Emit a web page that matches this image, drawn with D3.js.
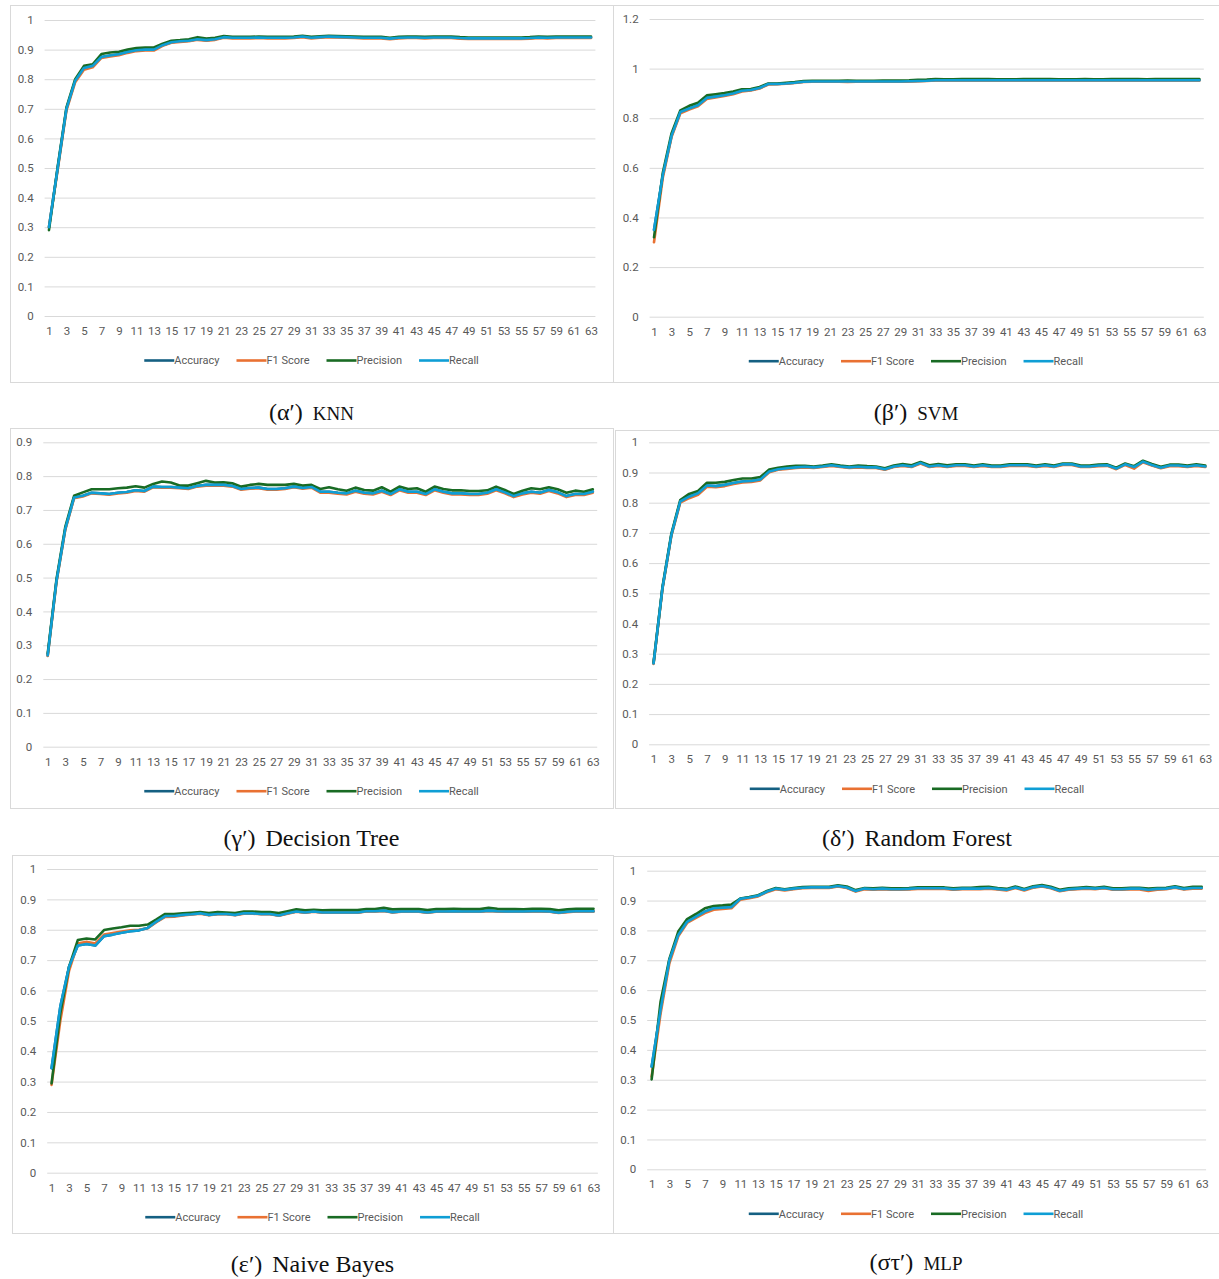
<!DOCTYPE html>
<html>
<head>
<meta charset="utf-8">
<script src="https://cdn.jsdelivr.net/npm/d3@7"></script>
<style>
  body { margin: 0; background: #fff; }
  text { font-family: Roboto, "Liberation Sans", sans-serif; }
</style>
</head>
<body>
<div id="chart"></div>
<script>
// categories on the x axis (1..63) and the labels Excel shows (odd only)
var epochs = d3.range(1, 64);
var tickLabels = epochs.filter((d) => d % 2 === 1);
var seriesNames = ["Accuracy", "F1 Score", "Precision", "Recall"];
var seriesColors = ["#156082", "#E97132", "#196B24", "#0F9ED5"];

// KNN
var knnAccuracy = [0.300,0.500,0.700,0.795,0.838,0.845,0.875,0.880,0.884,0.892,
  0.898,0.900,0.900,0.915,0.925,0.928,0.930,0.935,0.932,0.935,
  0.942,0.940,0.940,0.940,0.941,0.940,0.940,0.940,0.941,0.944,
  0.940,0.942,0.944,0.943,0.942,0.941,0.940,0.940,0.940,0.937,
  0.940,0.941,0.941,0.940,0.941,0.941,0.941,0.939,0.938,0.938,
  0.938,0.938,0.938,0.938,0.938,0.939,0.941,0.940,0.941,0.941,
  0.941,0.941,0.941];
var knnPrecision = [0.290,0.505,0.705,0.800,0.845,0.850,0.885,0.890,0.893,0.900,
  0.905,0.907,0.907,0.920,0.930,0.932,0.935,0.942,0.937,0.940,
  0.946,0.943,0.943,0.943,0.944,0.943,0.943,0.943,0.944,0.947,
  0.943,0.945,0.947,0.946,0.945,0.944,0.943,0.943,0.943,0.940,
  0.943,0.944,0.944,0.943,0.944,0.944,0.944,0.942,0.941,0.941,
  0.941,0.941,0.941,0.941,0.941,0.942,0.944,0.943,0.944,0.944,
  0.944,0.944,0.944];
var knnF1 = [0.300,0.495,0.695,0.790,0.832,0.840,0.872,0.877,0.881,0.889,
  0.895,0.897,0.897,0.913,0.923,0.926,0.928,0.933,0.930,0.933,
  0.940,0.938,0.938,0.938,0.939,0.938,0.938,0.938,0.939,0.942,
  0.938,0.940,0.942,0.941,0.940,0.939,0.938,0.938,0.938,0.935,
  0.938,0.939,0.939,0.938,0.939,0.939,0.939,0.937,0.936,0.936,
  0.936,0.936,0.936,0.936,0.936,0.937,0.939,0.938,0.939,0.939,
  0.939,0.939,0.939];

// SVM
var svmAccuracy = [0.350,0.570,0.730,0.825,0.839,0.852,0.882,0.887,0.893,0.900,
  0.911,0.914,0.922,0.938,0.938,0.940,0.943,0.947,0.948,0.948,
  0.948,0.948,0.948,0.948,0.948,0.948,0.948,0.948,0.948,0.949,
  0.950,0.951,0.953,0.953,0.953,0.953,0.953,0.953,0.953,0.953,
  0.953,0.953,0.953,0.953,0.953,0.953,0.953,0.953,0.953,0.953,
  0.953,0.953,0.953,0.953,0.953,0.953,0.953,0.953,0.953,0.953,
  0.953,0.953,0.953];
var svmPrecision = [0.320,0.580,0.740,0.832,0.850,0.862,0.892,0.897,0.902,0.908,
  0.917,0.918,0.926,0.940,0.940,0.943,0.946,0.950,0.951,0.951,
  0.951,0.951,0.952,0.951,0.951,0.951,0.952,0.952,0.952,0.953,
  0.955,0.956,0.958,0.957,0.957,0.958,0.958,0.958,0.958,0.957,
  0.957,0.957,0.958,0.958,0.958,0.958,0.957,0.957,0.957,0.958,
  0.957,0.957,0.958,0.958,0.958,0.958,0.957,0.958,0.958,0.958,
  0.958,0.958,0.958];
var svmF1 = [0.300,0.560,0.725,0.820,0.835,0.848,0.878,0.884,0.890,0.897,
  0.908,0.912,0.920,0.936,0.937,0.939,0.942,0.946,0.947,0.947,
  0.947,0.947,0.946,0.947,0.947,0.947,0.947,0.947,0.947,0.948,
  0.949,0.950,0.952,0.952,0.952,0.952,0.952,0.952,0.952,0.952,
  0.952,0.952,0.952,0.952,0.952,0.952,0.952,0.952,0.952,0.952,
  0.952,0.952,0.952,0.952,0.952,0.952,0.952,0.952,0.952,0.952,
  0.952,0.952,0.952];

// Decision Tree
var dtAccuracy = [0.270,0.490,0.644,0.737,0.742,0.751,0.749,0.747,0.751,0.753,
  0.758,0.756,0.769,0.768,0.768,0.766,0.764,0.771,0.774,0.774,
  0.774,0.771,0.762,0.765,0.766,0.762,0.762,0.764,0.769,0.765,
  0.768,0.754,0.754,0.751,0.749,0.757,0.751,0.749,0.757,0.747,
  0.761,0.754,0.754,0.747,0.761,0.754,0.749,0.749,0.747,0.747,
  0.751,0.761,0.752,0.741,0.749,0.754,0.751,0.759,0.752,0.741,
  0.747,0.747,0.754];
var dtPrecision = [0.275,0.495,0.650,0.742,0.752,0.761,0.761,0.761,0.764,0.766,
  0.770,0.766,0.777,0.784,0.781,0.772,0.772,0.779,0.786,0.781,
  0.782,0.779,0.769,0.774,0.777,0.774,0.774,0.774,0.777,0.772,
  0.774,0.762,0.767,0.761,0.757,0.766,0.759,0.757,0.767,0.754,
  0.769,0.762,0.764,0.754,0.769,0.762,0.758,0.758,0.756,0.756,
  0.758,0.769,0.759,0.747,0.757,0.764,0.761,0.767,0.761,0.751,
  0.757,0.754,0.761];
var dtF1 = [0.268,0.487,0.641,0.735,0.740,0.749,0.747,0.745,0.749,0.751,
  0.756,0.754,0.767,0.766,0.766,0.764,0.762,0.769,0.772,0.772,
  0.772,0.769,0.760,0.763,0.764,0.760,0.760,0.762,0.767,0.763,
  0.766,0.751,0.751,0.748,0.746,0.754,0.748,0.746,0.754,0.744,
  0.758,0.751,0.751,0.744,0.758,0.751,0.746,0.746,0.744,0.744,
  0.748,0.758,0.749,0.738,0.746,0.751,0.748,0.756,0.749,0.738,
  0.744,0.744,0.751];

// Random Forest
var rfAccuracy = [0.268,0.517,0.693,0.804,0.820,0.831,0.857,0.855,0.859,0.865,
  0.870,0.872,0.877,0.903,0.911,0.914,0.917,0.919,0.917,0.920,
  0.924,0.920,0.917,0.919,0.917,0.917,0.911,0.920,0.924,0.920,
  0.932,0.920,0.924,0.920,0.924,0.924,0.920,0.924,0.920,0.920,
  0.924,0.924,0.924,0.920,0.924,0.920,0.927,0.927,0.920,0.920,
  0.923,0.924,0.913,0.927,0.918,0.936,0.925,0.916,0.923,0.923,
  0.920,0.924,0.920];
var rfPrecision = [0.270,0.520,0.697,0.809,0.829,0.839,0.866,0.866,0.869,0.875,
  0.880,0.880,0.885,0.910,0.916,0.920,0.922,0.922,0.920,0.923,
  0.927,0.923,0.920,0.923,0.921,0.920,0.914,0.923,0.928,0.924,
  0.935,0.924,0.928,0.924,0.927,0.927,0.923,0.927,0.923,0.923,
  0.927,0.927,0.927,0.923,0.927,0.923,0.930,0.930,0.923,0.923,
  0.926,0.927,0.916,0.930,0.921,0.939,0.928,0.919,0.926,0.926,
  0.923,0.927,0.923];
var rfF1 = [0.266,0.514,0.690,0.800,0.815,0.826,0.853,0.851,0.855,0.862,
  0.867,0.869,0.874,0.901,0.909,0.912,0.915,0.917,0.915,0.918,
  0.922,0.918,0.915,0.917,0.915,0.915,0.909,0.918,0.922,0.918,
  0.930,0.918,0.922,0.918,0.922,0.922,0.918,0.922,0.918,0.918,
  0.922,0.922,0.922,0.918,0.922,0.918,0.925,0.925,0.918,0.918,
  0.921,0.922,0.911,0.925,0.913,0.934,0.923,0.914,0.921,0.921,
  0.918,0.922,0.918];

// Naive Bayes
var nbAccuracy = [0.344,0.547,0.678,0.748,0.753,0.748,0.779,0.784,0.790,0.795,
  0.798,0.806,0.827,0.845,0.845,0.849,0.851,0.854,0.849,0.852,
  0.852,0.849,0.854,0.854,0.852,0.852,0.847,0.854,0.860,0.857,
  0.860,0.857,0.857,0.857,0.857,0.857,0.861,0.861,0.863,0.858,
  0.860,0.860,0.860,0.857,0.860,0.860,0.861,0.860,0.860,0.860,
  0.863,0.861,0.860,0.860,0.860,0.861,0.861,0.860,0.856,0.859,
  0.861,0.861,0.861];
var nbPrecision = [0.294,0.525,0.678,0.766,0.771,0.768,0.799,0.804,0.808,0.813,
  0.813,0.817,0.834,0.852,0.852,0.854,0.856,0.858,0.855,0.858,
  0.857,0.855,0.860,0.860,0.858,0.858,0.855,0.861,0.867,0.864,
  0.866,0.864,0.865,0.865,0.865,0.865,0.868,0.868,0.872,0.867,
  0.868,0.868,0.868,0.865,0.868,0.868,0.869,0.868,0.868,0.868,
  0.872,0.869,0.868,0.868,0.867,0.869,0.869,0.868,0.864,0.867,
  0.869,0.869,0.869];
var nbF1 = [0.289,0.500,0.665,0.755,0.760,0.755,0.784,0.789,0.794,0.798,
  0.800,0.805,0.825,0.842,0.843,0.847,0.850,0.853,0.848,0.851,
  0.851,0.848,0.853,0.853,0.851,0.851,0.846,0.853,0.859,0.856,
  0.859,0.856,0.856,0.856,0.856,0.856,0.860,0.860,0.862,0.857,
  0.859,0.859,0.859,0.856,0.859,0.859,0.860,0.859,0.859,0.859,
  0.862,0.860,0.859,0.859,0.859,0.860,0.860,0.859,0.855,0.858,
  0.860,0.860,0.860];

// MLP
var mlpAccuracy = [0.344,0.533,0.700,0.785,0.829,0.846,0.863,0.874,0.876,0.878,
  0.906,0.910,0.916,0.930,0.940,0.936,0.940,0.943,0.944,0.944,
  0.944,0.949,0.944,0.932,0.940,0.938,0.940,0.938,0.938,0.939,
  0.941,0.941,0.941,0.941,0.938,0.940,0.940,0.940,0.942,0.939,
  0.936,0.944,0.936,0.945,0.949,0.943,0.933,0.938,0.940,0.942,
  0.940,0.943,0.938,0.938,0.940,0.940,0.936,0.939,0.940,0.945,
  0.939,0.942,0.942];
var mlpPrecision = [0.301,0.560,0.705,0.796,0.838,0.855,0.874,0.882,0.884,0.887,
  0.907,0.912,0.918,0.932,0.942,0.938,0.942,0.945,0.946,0.946,
  0.946,0.951,0.947,0.935,0.942,0.941,0.943,0.941,0.941,0.942,
  0.944,0.944,0.944,0.944,0.941,0.943,0.943,0.945,0.946,0.942,
  0.939,0.947,0.939,0.948,0.952,0.946,0.936,0.941,0.943,0.945,
  0.943,0.946,0.941,0.941,0.943,0.943,0.940,0.942,0.943,0.948,
  0.942,0.946,0.946];
var mlpF1 = [0.310,0.520,0.690,0.780,0.825,0.842,0.858,0.869,0.872,0.874,
  0.903,0.908,0.914,0.928,0.938,0.934,0.938,0.941,0.942,0.942,
  0.942,0.947,0.942,0.930,0.938,0.936,0.938,0.936,0.936,0.937,
  0.939,0.939,0.939,0.939,0.936,0.938,0.938,0.938,0.940,0.937,
  0.934,0.942,0.934,0.943,0.947,0.941,0.931,0.936,0.938,0.940,
  0.938,0.941,0.936,0.936,0.938,0.937,0.932,0.936,0.938,0.943,
  0.937,0.940,0.940];

// y tick values per panel
var yTicks01 = d3.range(0, 11).map((d) => d / 10);
var yTicks12 = [0, 0.2, 0.4, 0.6, 0.8, 1, 1.2];
var yTicks09 = d3.range(0, 10).map((d) => d / 10);

// panel layout (weighted recall equals accuracy, so Recall reuses the accuracy values)
var panels = [
  { greek: "α", name: "KNN", caps: true, acc: knnAccuracy, f1: knnF1, prec: knnPrecision,
    ticks: yTicks01, frame: [10, 5, 603, 377], x: [44.6, 595.4], y: [316, 20], cap: 420 },
  { greek: "β", name: "SVM", caps: true, acc: svmAccuracy, f1: svmF1, prec: svmPrecision,
    ticks: yTicks12, frame: [613, 5, 606, 377], x: [649.6, 1203.8], y: [316.7, 19], cap: 420 },
  { greek: "γ", name: "Decision Tree", caps: false, acc: dtAccuracy, f1: dtF1, prec: dtPrecision,
    ticks: yTicks09, frame: [10, 428, 603, 380], x: [43.3, 597.2], y: [746.7, 442.3], cap: 846 },
  { greek: "δ", name: "Random Forest", caps: false, acc: rfAccuracy, f1: rfF1, prec: rfPrecision,
    ticks: yTicks01, frame: [615, 430, 604, 378], x: [649.1, 1209.7], y: [744.3, 442.3], cap: 846 },
  { greek: "ε", name: "Naive Bayes", caps: false, acc: nbAccuracy, f1: nbF1, prec: nbPrecision,
    ticks: yTicks01, frame: [12, 855, 601, 378], x: [47.2, 597.9], y: [1172.7, 869], cap: 1272 },
  { greek: "στ", name: "MLP", caps: true, acc: mlpAccuracy, f1: mlpF1, prec: mlpPrecision,
    ticks: yTicks01, frame: [613, 856, 606, 377], x: [647.2, 1206.1], y: [1169.3, 870.7], cap: 1270 }
];

var svg = d3.select("#chart").append("svg")
  .attr("width", 1219)
  .attr("height", 1279)
  .style("display", "block");

panels.forEach(function (p) {
  var g = svg.append("g");

  // light chart frame
  g.append("rect")
    .attr("x", p.frame[0] + 0.5).attr("y", p.frame[1] + 0.5)
    .attr("width", p.frame[2]).attr("height", p.frame[3])
    .attr("fill", "none").attr("stroke", "#d9d9d9").attr("stroke-width", 1);

  var x = d3.scalePoint().domain(epochs).range(p.x).padding(0.5);
  var y = d3.scaleLinear().domain([0, d3.max(p.ticks)]).range(p.y);

  // gridlines + y labels
  var yAxis = g.append("g")
    .attr("transform", "translate(" + p.x[0] + ",0)")
    .call(d3.axisLeft(y).tickValues(p.ticks).tickSize(-(p.x[1] - p.x[0])).tickPadding(11)
      .tickFormat(d3.format("~g")));
  yAxis.select(".domain").remove();
  yAxis.selectAll("line").attr("stroke", "#d9d9d9").attr("stroke-width", 1);
  yAxis.selectAll("text").attr("fill", "#595959").style("font-size", "11.5px");

  // x labels
  var xAxis = g.append("g")
    .attr("transform", "translate(0," + p.y[0] + ")")
    .call(d3.axisBottom(x).tickValues(tickLabels).tickSize(0).tickPadding(11));
  xAxis.select(".domain").remove();
  xAxis.selectAll("text").attr("fill", "#595959").style("font-size", "11.5px");

  var series = [
    { name: seriesNames[0], values: p.acc },
    { name: seriesNames[1], values: p.f1 },
    { name: seriesNames[2], values: p.prec },
    { name: seriesNames[3], values: p.acc }
  ];

  var line = d3.line()
    .x((d, i) => x(epochs[i]))
    .y((d) => y(d));

  g.selectAll(".series")
    .data(series)
    .enter()
    .append("path")
    .attr("class", "series")
    .attr("fill", "none")
    .attr("stroke", (d, i) => seriesColors[i])
    .attr("stroke-width", 2.6)
    .attr("stroke-linejoin", "round")
    .attr("stroke-linecap", "round")
    .attr("d", (d) => line(d.values));

  // legend, centred in the chart frame
  var legend = g.append("g");
  var lx = 0;
  series.forEach(function (s, i) {
    legend.append("line")
      .attr("x1", lx).attr("x2", lx + 30).attr("y1", 0).attr("y2", 0)
      .attr("stroke", seriesColors[i]).attr("stroke-width", 2.6);
    var t = legend.append("text")
      .attr("x", lx + 30).attr("y", 0).attr("dy", "0.35em")
      .attr("fill", "#595959").style("font-size", "11px")
      .text(s.name);
    lx += 30 + t.node().getComputedTextLength() + 17;
  });
  lx -= 17;
  var cx = p.frame[0] + p.frame[2] / 2;
  legend.attr("transform", "translate(" + (cx - lx / 2) + "," + (p.y[0] + 44.5) + ")");

  // caption below the panel
  var cap = svg.append("text")
    .attr("x", p.frame[0] + p.frame[2] / 2)
    .attr("y", p.cap)
    .attr("text-anchor", "middle")
    .style("font-family", "'Liberation Serif', serif")
    .style("font-size", "24px")
    .attr("fill", "#111");
  cap.append("tspan").text("(" + p.greek + "′)");
  cap.append("tspan")
    .attr("dx", 10)
    .style("font-size", p.caps ? "19px" : "24px")
    .text(p.name);
});
</script>
</body>
</html>
